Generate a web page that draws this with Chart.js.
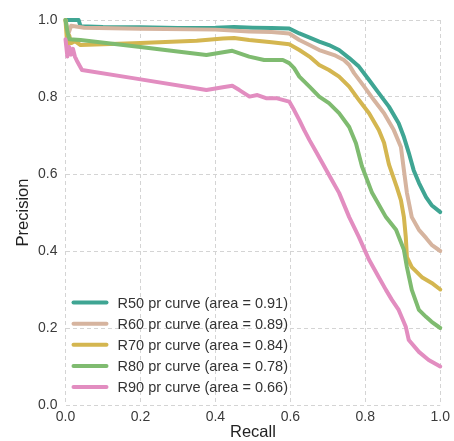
<!DOCTYPE html>
<html>
<head>
<meta charset="utf-8">
<script src="https://cdn.jsdelivr.net/npm/chart.js@4/dist/chart.umd.min.js"></script>
<style>
  html, body { margin: 0; padding: 0; background: #fff; }
  #wrap { width: 454px; height: 441px; position: relative; }
</style>
</head>
<body>
<div id="wrap"><canvas id="prChart"></canvas></div>
<script>
// recall / precision points
var r50Recall = [0, 0.035, 0.04, 0.1, 0.2, 0.3, 0.4, 0.45, 0.5, 0.55, 0.597, 0.624, 0.65, 0.677, 0.703, 0.730, 0.757, 0.783, 0.810, 0.836, 0.863, 0.889, 0.903, 0.916, 0.929, 0.943, 0.962, 0.977, 1.0];
var r50Precision = [1.0, 1.0, 0.984, 0.982, 0.981, 0.979, 0.980, 0.982, 0.980, 0.979, 0.978, 0.965, 0.955, 0.944, 0.935, 0.922, 0.901, 0.879, 0.844, 0.810, 0.775, 0.732, 0.696, 0.655, 0.610, 0.577, 0.540, 0.519, 0.501];

var r60Recall = [0, 0.008, 0.015, 0.05, 0.2, 0.4, 0.49, 0.55, 0.597, 0.624, 0.651, 0.677, 0.717, 0.743, 0.757, 0.770, 0.797, 0.823, 0.850, 0.876, 0.895, 0.903, 0.911, 0.924, 0.943, 0.962, 0.977, 1.0];
var r60Precision = [1.0, 0.965, 0.985, 0.980, 0.977, 0.975, 0.970, 0.969, 0.965, 0.948, 0.935, 0.922, 0.909, 0.896, 0.883, 0.862, 0.827, 0.792, 0.758, 0.714, 0.670, 0.610, 0.551, 0.488, 0.455, 0.434, 0.416, 0.40];

var r70Recall = [0, 0.005, 0.01, 0.015, 0.025, 0.04, 0.1, 0.2, 0.35, 0.42, 0.45, 0.49, 0.55, 0.597, 0.624, 0.651, 0.677, 0.703, 0.730, 0.757, 0.783, 0.810, 0.836, 0.850, 0.863, 0.884, 0.895, 0.903, 0.908, 0.911, 0.924, 0.951, 0.977, 1.0];
var r70Precision = [1.0, 0.93, 0.96, 0.94, 0.945, 0.935, 0.937, 0.94, 0.946, 0.952, 0.953, 0.948, 0.942, 0.937, 0.922, 0.905, 0.883, 0.870, 0.853, 0.827, 0.792, 0.758, 0.714, 0.681, 0.625, 0.566, 0.532, 0.488, 0.436, 0.384, 0.358, 0.332, 0.317, 0.30];

var r80Recall = [0, 0.005, 0.01, 0.04, 0.2, 0.376, 0.445, 0.49, 0.53, 0.58, 0.597, 0.610, 0.624, 0.651, 0.677, 0.703, 0.730, 0.757, 0.775, 0.791, 0.818, 0.855, 0.882, 0.903, 0.911, 0.924, 0.943, 0.962, 0.977, 1.0];
var r80Precision = [1.0, 0.97, 0.95, 0.948, 0.93, 0.909, 0.92, 0.905, 0.896, 0.896, 0.888, 0.875, 0.853, 0.827, 0.801, 0.784, 0.758, 0.722, 0.68, 0.62, 0.551, 0.488, 0.455, 0.403, 0.358, 0.299, 0.247, 0.229, 0.216, 0.20];

var r90Recall = [0, 0.005, 0.01, 0.015, 0.02, 0.025, 0.03, 0.044, 0.18, 0.376, 0.424, 0.445, 0.464, 0.491, 0.512, 0.535, 0.562, 0.597, 0.610, 0.624, 0.637, 0.651, 0.669, 0.685, 0.711, 0.730, 0.757, 0.783, 0.810, 0.836, 0.855, 0.871, 0.889, 0.908, 0.916, 0.943, 0.969, 1.0];
var r90Precision = [0.95, 0.905, 0.93, 0.91, 0.925, 0.905, 0.895, 0.870, 0.849, 0.818, 0.826, 0.829, 0.818, 0.801, 0.805, 0.797, 0.797, 0.788, 0.766, 0.740, 0.714, 0.688, 0.657, 0.629, 0.584, 0.551, 0.488, 0.436, 0.377, 0.332, 0.299, 0.273, 0.247, 0.203, 0.169, 0.138, 0.117, 0.10];

var seriesNames = ["R50", "R60", "R70", "R80", "R90"];
var areas = [0.91, 0.89, 0.84, 0.78, 0.66];
var colors = ["#3fa593", "#d6b49f", "#d4b650", "#7fbb70", "#e28dc0"];
var tickLabels = ["0.0", "0.2", "0.4", "0.6", "0.8", "1.0"];

var allRecall = [r50Recall, r60Recall, r70Recall, r80Recall, r90Recall];
var allPrecision = [r50Precision, r60Precision, r70Precision, r80Precision, r90Precision];

function toPoints(rec, prec) {
    var pts = [];
    for (let i = 0; i < rec.length; i++) {
        pts.push({ x: rec[i], y: prec[i] });
    }
    return pts;
}

var datasets = [];
for (let i = 0; i < seriesNames.length; i++) {
    datasets.push({
        label: seriesNames[i] + " pr curve (area = " + areas[i].toFixed(2) + ")",
        data: toPoints(allRecall[i], allPrecision[i]),
        borderColor: colors[i],
        backgroundColor: colors[i],
        borderWidth: 4,
        pointRadius: 0,
        tension: 0,
        fill: false,
        clip: false,
        borderJoinStyle: "round",
        borderCapStyle: "round",
        order: seriesNames.length - i
    });
}

// legend drawn inside the plot, lower left, like matplotlib
var innerLegend = {
    id: "innerLegend",
    afterDraw: function(chart) {
        var ctx = chart.ctx;
        var area = chart.chartArea;
        var n = datasets.length;
        var x0 = area.left + 8;
        ctx.save();
        ctx.font = "14.5px 'Liberation Sans', Arial, sans-serif";
        ctx.textBaseline = "middle";
        ctx.textAlign = "left";
        for (let i = 0; i < n; i++) {
            var y = area.bottom - 18 - (n - 1 - i) * 21.1;
            ctx.strokeStyle = colors[i];
            ctx.lineWidth = 4;
            ctx.lineCap = "round";
            ctx.beginPath();
            ctx.moveTo(x0, y);
            ctx.lineTo(x0 + 33, y);
            ctx.stroke();
            ctx.fillStyle = "#333";
            ctx.fillText(datasets[i].label, x0 + 44, y + 1);
        }
        ctx.restore();
    }
};

var ctx = document.getElementById("prChart").getContext("2d");
var myChart = new Chart(ctx, {
    type: "line",
    data: { datasets: datasets },
    options: {
        responsive: true,
        maintainAspectRatio: false,
        animation: false,
        layout: { padding: { top: 20, right: 12, left: 0, bottom: 0 } },
        plugins: {
            legend: { display: false },
            tooltip: { enabled: false }
        },
        scales: {
            x: {
                type: "linear",
                min: 0,
                max: 1,
                afterFit: function(s) { s.height = 36; },
                afterBuildTicks: function(s) {
                    s.ticks = tickLabels.map(function(t) { return { value: parseFloat(t) }; });
                },
                ticks: {
                    padding: 4,
                    color: "#3a3a3a",
                    font: { size: 14, family: "'Liberation Sans', Arial, sans-serif" },
                    callback: function(v) { return v.toFixed(1); }
                },
                grid: { color: "#d4d4d4", lineWidth: 1, drawTicks: false },
                border: { display: false, dash: [4, 3] },
                title: {
                    display: true,
                    text: "Recall",
                    color: "#222",
                    padding: { top: 0, bottom: -1 },
                    font: { size: 16.5, family: "'Liberation Sans', Arial, sans-serif" }
                }
            },
            y: {
                type: "linear",
                min: 0,
                max: 1,
                afterFit: function(s) { s.width = 65.5; },
                afterBuildTicks: function(s) {
                    s.ticks = tickLabels.map(function(t) { return { value: parseFloat(t) }; });
                },
                ticks: {
                    padding: 8,
                    color: "#3a3a3a",
                    font: { size: 14, family: "'Liberation Sans', Arial, sans-serif" },
                    callback: function(v) { return v.toFixed(1); }
                },
                grid: { color: "#d4d4d4", lineWidth: 1, drawTicks: false },
                border: { display: false, dash: [4, 3] },
                title: {
                    display: true,
                    text: "Precision",
                    color: "#222",
                    padding: { top: 14, bottom: 0 },
                    font: { size: 16.5, family: "'Liberation Sans', Arial, sans-serif" }
                }
            }
        }
    },
    plugins: [innerLegend]
});
</script>
</body>
</html>
